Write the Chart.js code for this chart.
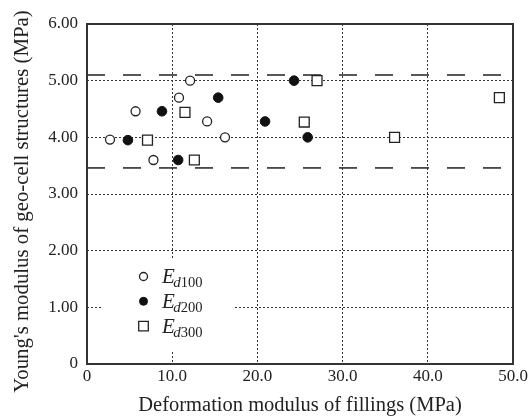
<!DOCTYPE html>
<html><head><meta charset="utf-8">
<script src="https://cdn.jsdelivr.net/npm/chart.js@4.4.1/dist/chart.umd.min.js"></script>
<style>html,body{margin:0;padding:0;background:#fff;}#wrap{width:532px;height:418px;}</style>
</head><body><div id="wrap"><canvas id="c" width="532" height="418"></canvas></div>
<script>
// Data
const ed100X = [2.7, 5.7, 7.8, 10.8, 12.1, 14.1, 16.2];
const ed100Y = [3.96, 4.46, 3.60, 4.70, 5.00, 4.28, 4.00];
const ed200X = [4.8, 8.8, 10.7, 15.4, 20.9, 24.3, 25.9];
const ed200Y = [3.95, 4.46, 3.60, 4.70, 4.28, 5.00, 4.00];
const ed300X = [7.1, 11.5, 12.6, 25.5, 27.0, 36.1, 48.4];
const ed300Y = [3.95, 4.44, 3.60, 4.27, 5.00, 4.00, 4.70];
const upperLimit = [5.1, 5.1];
const lowerLimit = [3.46, 3.46];
const limitX = [0, 50];
const xTickValues = [0, 10, 20, 30, 40, 50];
const xTickLabels = ['0', '10.0', '20.0', '30.0', '40.0', '50.0'];
const yTickValues = [0, 1, 2, 3, 4, 5, 6];
const yTickLabels = ['0', '1.00', '2.00', '3.00', '4.00', '5.00', '6.00'];
const legendSubs = ['100', '200', '300'];
const yTitle = "Young's modulus of geo-cell structures (MPa)";
const xTitle = 'Deformation modulus of fillings (MPa)';

const pts = (xs, ys) => xs.map((x, i) => ({x, y: ys[i]}));
const INK = '#222';
const SERIF = '"Liberation Serif", "Times New Roman", serif';

const legendPlugin = {
  id: 'inlegend',
  beforeDatasetsDraw(chart) {
    const {ctx, chartArea: a} = chart;
    ctx.save();
    ctx.fillStyle = '#fff';
    ctx.fillRect(a.left + 16, a.top + 234, 130, 94);
    const ds = chart.data.datasets;
    for (let i = 0; i < 3; i++) {
      const d = ds[i];
      const cy = a.top + 252.5 + i * 24.8;
      const cx = a.left + 56.5;
      ctx.fillStyle = d.backgroundColor; ctx.strokeStyle = d.borderColor; ctx.lineWidth = d.borderWidth;
      ctx.beginPath();
      if (d.pointStyle === 'rect') { ctx.rect(cx - 4.8, cy - 4.8, 9.6, 9.6); }
      else { ctx.arc(cx, cy, 4, 0, Math.PI * 2); }
      ctx.fill(); ctx.stroke();
      ctx.fillStyle = INK;
      ctx.textBaseline = 'alphabetic'; ctx.textAlign = 'left';
      const tx = a.left + 75, by = cy + 6.5;
      ctx.font = 'italic 21px ' + SERIF;
      ctx.fillText('E', tx, by);
      const ew = ctx.measureText('E').width;
      ctx.font = 'italic 15px ' + SERIF;
      ctx.fillText('d', tx + ew - 1.5, by + 4);
      const dw = ctx.measureText('d').width;
      ctx.font = '14.5px ' + SERIF;
      ctx.fillText(legendSubs[i], tx + ew - 1.5 + dw, by + 4);
    }
    ctx.restore();
  },
  afterDraw(chart) {
    const {ctx, chartArea: a} = chart;
    ctx.save();
    ctx.strokeStyle = '#333'; ctx.lineWidth = 2;
    ctx.strokeRect(a.left, a.top, a.right - a.left, a.bottom - a.top);
    // y-axis title (drawn manually to match its vertical offset)
    ctx.translate(23, (a.top + a.bottom) / 2 + 7.5);
    ctx.rotate(-Math.PI / 2);
    ctx.fillStyle = INK;
    ctx.font = '20.8px ' + SERIF;
    ctx.textAlign = 'center'; ctx.textBaseline = 'middle';
    ctx.fillText(yTitle, 0, 0);
    ctx.restore();
  }
};

new Chart(document.getElementById('c'), {
  type: 'scatter',
  data: {
    datasets: [
      {label: 'Ed100', data: pts(ed100X, ed100Y), pointStyle: 'circle', pointRadius: 4.5,
       backgroundColor: '#fff', borderColor: INK, borderWidth: 1.3},
      {label: 'Ed200', data: pts(ed200X, ed200Y), pointStyle: 'circle', pointRadius: 4.8,
       backgroundColor: '#111', borderColor: '#111', borderWidth: 1},
      {label: 'Ed300', data: pts(ed300X, ed300Y), pointStyle: 'rect', pointRadius: 7,
       backgroundColor: '#fff', borderColor: INK, borderWidth: 1.3},
      {type: 'line', label: 'upper', data: pts(limitX, upperLimit), borderColor: INK, borderWidth: 1.5,
       borderDash: [18, 18], pointRadius: 0, showLine: true, fill: false},
      {type: 'line', label: 'lower', data: pts(limitX, lowerLimit), borderColor: INK, borderWidth: 1.5,
       borderDash: [18, 18], pointRadius: 0, showLine: true, fill: false}
    ]
  },
  options: {
    responsive: false, animation: false,
    layout: {padding: {left: 0, top: 24, right: 19, bottom: 0}},
    plugins: {legend: {display: false}, tooltip: {enabled: false}},
    scales: {
      x: {
        type: 'linear', min: 0, max: 50,
        afterBuildTicks: s => { s.ticks = xTickValues.map(v => ({value: v})); },
        afterFit: s => { s.height = 54; },
        ticks: {color: INK, font: {family: SERIF, size: 17}, padding: 2, maxRotation: 0,
                callback: (v) => xTickLabels[xTickValues.indexOf(v)]},
        grid: {color: '#333', lineWidth: 1, drawTicks: false},
        border: {display: false, dash: [2, 2]},
        title: {display: true, text: xTitle, color: INK,
                font: {family: SERIF, size: 20.5}, padding: {top: 0, bottom: 0}}
      },
      y: {
        type: 'linear', min: 0, max: 6,
        afterBuildTicks: s => { s.ticks = yTickValues.map(v => ({value: v})); },
        afterFit: s => { s.width = 87; },
        ticks: {color: INK, font: {family: SERIF, size: 17}, padding: 9,
                callback: (v) => yTickLabels[yTickValues.indexOf(v)]},
        grid: {color: '#333', lineWidth: 1, drawTicks: false},
        border: {display: false, dash: [2, 2]},
        title: {display: false}
      }
    }
  },
  plugins: [legendPlugin]
});
</script></body></html>
